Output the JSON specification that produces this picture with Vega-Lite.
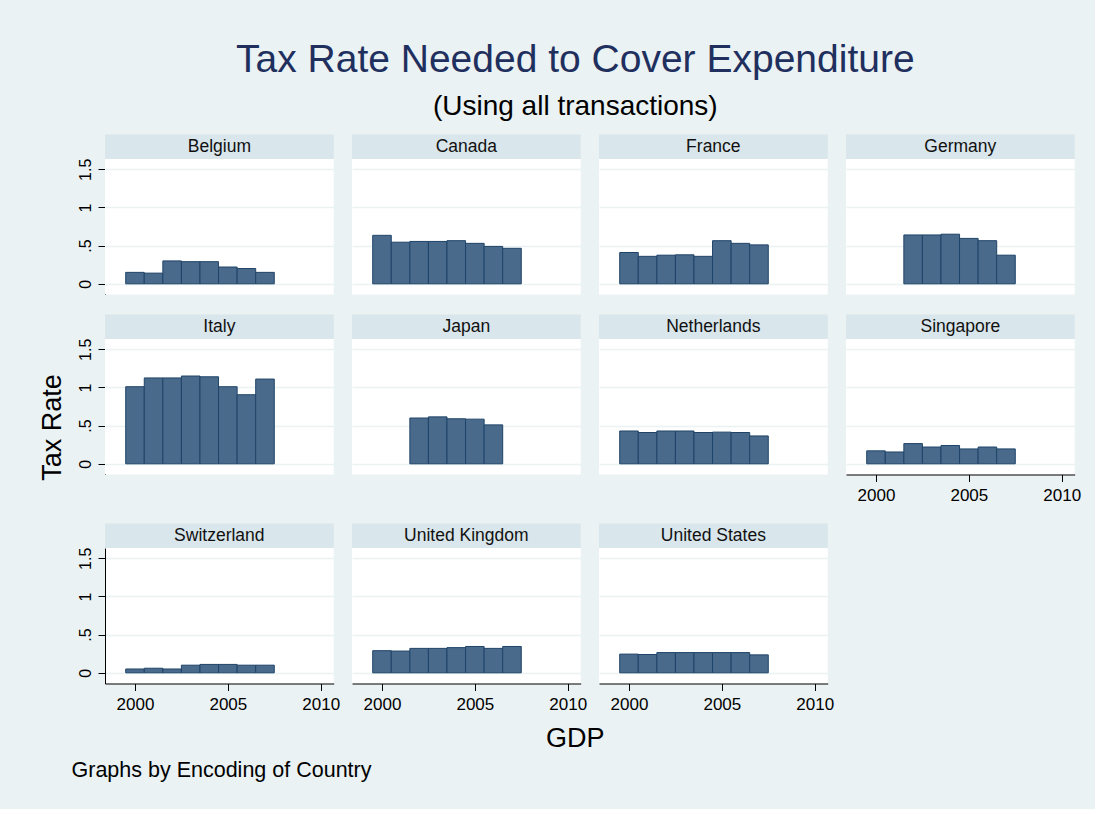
{
  "$schema": "https://vega.github.io/schema/vega-lite/v6.json",
  "background": "#EAF2F3",
  "padding": {"left": 38, "top": 41, "right": 14, "bottom": 27},
  "title": {
    "text": "Tax Rate Needed to Cover Expenditure",
    "subtitle": "(Using all transactions)",
    "font": "Liberation Sans",
    "fontSize": 39,
    "fontWeight": "normal",
    "color": "#1F2F5E",
    "subtitleFont": "Liberation Sans",
    "subtitleFontSize": 28,
    "subtitleColor": "#000000",
    "subtitlePadding": 13,
    "offset": 13,
    "anchor": "middle",
    "dx": 16
  },
  "datasets": {
    "tax": [
      {"country": "Belgium", "year": 2000, "rate": 0.15},
      {"country": "Belgium", "year": 2001, "rate": 0.14},
      {"country": "Belgium", "year": 2002, "rate": 0.30},
      {"country": "Belgium", "year": 2003, "rate": 0.29},
      {"country": "Belgium", "year": 2004, "rate": 0.29},
      {"country": "Belgium", "year": 2005, "rate": 0.22},
      {"country": "Belgium", "year": 2006, "rate": 0.20},
      {"country": "Belgium", "year": 2007, "rate": 0.15},
      {"country": "Canada", "year": 2000, "rate": 0.635},
      {"country": "Canada", "year": 2001, "rate": 0.545},
      {"country": "Canada", "year": 2002, "rate": 0.555},
      {"country": "Canada", "year": 2003, "rate": 0.555},
      {"country": "Canada", "year": 2004, "rate": 0.565},
      {"country": "Canada", "year": 2005, "rate": 0.53},
      {"country": "Canada", "year": 2006, "rate": 0.49},
      {"country": "Canada", "year": 2007, "rate": 0.465},
      {"country": "France", "year": 2000, "rate": 0.41},
      {"country": "France", "year": 2001, "rate": 0.36},
      {"country": "France", "year": 2002, "rate": 0.375},
      {"country": "France", "year": 2003, "rate": 0.38},
      {"country": "France", "year": 2004, "rate": 0.36},
      {"country": "France", "year": 2005, "rate": 0.565},
      {"country": "France", "year": 2006, "rate": 0.53},
      {"country": "France", "year": 2007, "rate": 0.51},
      {"country": "Germany", "year": 2002, "rate": 0.64},
      {"country": "Germany", "year": 2003, "rate": 0.64},
      {"country": "Germany", "year": 2004, "rate": 0.65},
      {"country": "Germany", "year": 2005, "rate": 0.595},
      {"country": "Germany", "year": 2006, "rate": 0.565},
      {"country": "Germany", "year": 2007, "rate": 0.375},
      {"country": "Italy", "year": 2000, "rate": 1.01},
      {"country": "Italy", "year": 2001, "rate": 1.125},
      {"country": "Italy", "year": 2002, "rate": 1.125},
      {"country": "Italy", "year": 2003, "rate": 1.15},
      {"country": "Italy", "year": 2004, "rate": 1.14},
      {"country": "Italy", "year": 2005, "rate": 1.01},
      {"country": "Italy", "year": 2006, "rate": 0.905},
      {"country": "Italy", "year": 2007, "rate": 1.11},
      {"country": "Japan", "year": 2002, "rate": 0.60},
      {"country": "Japan", "year": 2003, "rate": 0.615},
      {"country": "Japan", "year": 2004, "rate": 0.59},
      {"country": "Japan", "year": 2005, "rate": 0.585},
      {"country": "Japan", "year": 2006, "rate": 0.51},
      {"country": "Netherlands", "year": 2000, "rate": 0.43},
      {"country": "Netherlands", "year": 2001, "rate": 0.41},
      {"country": "Netherlands", "year": 2002, "rate": 0.43},
      {"country": "Netherlands", "year": 2003, "rate": 0.43},
      {"country": "Netherlands", "year": 2004, "rate": 0.41},
      {"country": "Netherlands", "year": 2005, "rate": 0.415},
      {"country": "Netherlands", "year": 2006, "rate": 0.41},
      {"country": "Netherlands", "year": 2007, "rate": 0.365},
      {"country": "Singapore", "year": 2000, "rate": 0.17},
      {"country": "Singapore", "year": 2001, "rate": 0.155},
      {"country": "Singapore", "year": 2002, "rate": 0.265},
      {"country": "Singapore", "year": 2003, "rate": 0.22},
      {"country": "Singapore", "year": 2004, "rate": 0.24},
      {"country": "Singapore", "year": 2005, "rate": 0.195},
      {"country": "Singapore", "year": 2006, "rate": 0.22},
      {"country": "Singapore", "year": 2007, "rate": 0.195},
      {"country": "Switzerland", "year": 2000, "rate": 0.05},
      {"country": "Switzerland", "year": 2001, "rate": 0.06},
      {"country": "Switzerland", "year": 2002, "rate": 0.05},
      {"country": "Switzerland", "year": 2003, "rate": 0.10},
      {"country": "Switzerland", "year": 2004, "rate": 0.11},
      {"country": "Switzerland", "year": 2005, "rate": 0.11},
      {"country": "Switzerland", "year": 2006, "rate": 0.10},
      {"country": "Switzerland", "year": 2007, "rate": 0.10},
      {"country": "United Kingdom", "year": 2000, "rate": 0.29},
      {"country": "United Kingdom", "year": 2001, "rate": 0.285},
      {"country": "United Kingdom", "year": 2002, "rate": 0.32},
      {"country": "United Kingdom", "year": 2003, "rate": 0.32},
      {"country": "United Kingdom", "year": 2004, "rate": 0.33},
      {"country": "United Kingdom", "year": 2005, "rate": 0.345},
      {"country": "United Kingdom", "year": 2006, "rate": 0.32},
      {"country": "United Kingdom", "year": 2007, "rate": 0.345},
      {"country": "United States", "year": 2000, "rate": 0.245},
      {"country": "United States", "year": 2001, "rate": 0.24},
      {"country": "United States", "year": 2002, "rate": 0.265},
      {"country": "United States", "year": 2003, "rate": 0.265},
      {"country": "United States", "year": 2004, "rate": 0.265},
      {"country": "United States", "year": 2005, "rate": 0.265},
      {"country": "United States", "year": 2006, "rate": 0.265},
      {"country": "United States", "year": 2007, "rate": 0.235}
    ]
  },
  "data": {"name": "tax"},
  "spacing": 19,
  "vconcat": [
    {
      "transform": [{"filter": {"field": "country", "oneOf": ["Belgium", "Canada", "France", "Germany"]}}],
      "facet": {"column": {"field": "country", "type": "nominal", "header": {"title": null, "labels": false}}},
      "spacing": {"column": 18},
      "spec": {
        "width": 228.7,
        "height": 135.5,
        "layer": [
          {
            "mark": {"type": "bar", "width": 18.571, "fill": "#4A6A8C", "stroke": "#1F4468", "strokeWidth": 1},
            "encoding": {
              "x": {"field": "year", "type": "quantitative", "scale": {"domain": [1998.385, 2010.7], "nice": false, "zero": false, "padding": 0}, "axis": null},
              "y": {
                "field": "rate", "type": "quantitative",
                "scale": {"domain": [-0.14, 1.635], "nice": false, "zero": false, "padding": 0},
                "axis": {"values": [0, 0.5, 1, 1.5], "format": "~g", "labelExpr": "datum.value == 0.5 ? '.5' : datum.label", "labelAngle": -90, "labelAlign": "center", "labelBaseline": "bottom", "labelPadding": 5, "labelFontSize": 16, "labelFlush": false, "grid": true, "title": "Tax Rate", "titleFontSize": 27, "titleAngle": -90, "titleAlign": "center", "titleBaseline": "alphabetic", "titleX": -45, "titleY": 67.75, "titleOpacity": 0}
              }
            }
          },
          {
            "transform": [{"aggregate": [{"op": "count", "as": "n"}], "groupby": ["country"]}],
            "mark": {"type": "rect", "fill": "#D9E6EB"},
            "encoding": {
              "x": {"datum": 1998.385, "type": "quantitative", "axis": null},
              "x2": {"datum": 2010.7},
              "y": {"datum": 1.635, "type": "quantitative"},
              "y2": {"datum": 1.956}
            }
          },
          {
            "transform": [{"aggregate": [{"op": "count", "as": "n"}], "groupby": ["country"]}],
            "mark": {"type": "text", "fontSize": 17.5, "color": "#111111", "align": "center", "baseline": "alphabetic"},
            "encoding": {
              "x": {"datum": 2004.5425, "type": "quantitative", "axis": null},
              "y": {"datum": 1.723, "type": "quantitative"},
              "text": {"field": "country", "type": "nominal"}
            }
          }
        ]
      }
    },
    {
      "spacing": 18,
      "hconcat": [
        {
          "transform": [{"filter": {"field": "country", "oneOf": ["Italy", "Japan", "Netherlands"]}}],
          "facet": {"column": {"field": "country", "type": "nominal", "header": {"title": null, "labels": false}}},
          "spacing": {"column": 18},
          "spec": {
            "width": 228.7,
            "height": 135.5,
            "layer": [
              {
                "mark": {"type": "bar", "width": 18.571, "fill": "#4A6A8C", "stroke": "#1F4468", "strokeWidth": 1},
                "encoding": {
                  "x": {"field": "year", "type": "quantitative", "scale": {"domain": [1998.385, 2010.7], "nice": false, "zero": false, "padding": 0}, "axis": null},
                  "y": {
                    "field": "rate", "type": "quantitative",
                    "scale": {"domain": [-0.14, 1.635], "nice": false, "zero": false, "padding": 0},
                    "axis": {"values": [0, 0.5, 1, 1.5], "format": "~g", "labelExpr": "datum.value == 0.5 ? '.5' : datum.label", "labelAngle": -90, "labelAlign": "center", "labelBaseline": "bottom", "labelPadding": 5, "labelFontSize": 16, "labelFlush": false, "grid": true, "title": "Tax Rate", "titleFontSize": 27, "titleAngle": -90, "titleAlign": "center", "titleBaseline": "alphabetic", "titleX": -45, "titleY": 88}
                  }
                }
              },
              {
                "transform": [{"aggregate": [{"op": "count", "as": "n"}], "groupby": ["country"]}],
                "mark": {"type": "rect", "fill": "#D9E6EB"},
                "encoding": {
                  "x": {"datum": 1998.385, "type": "quantitative", "axis": null},
                  "x2": {"datum": 2010.7},
                  "y": {"datum": 1.635, "type": "quantitative"},
                  "y2": {"datum": 1.956}
                }
              },
              {
                "transform": [{"aggregate": [{"op": "count", "as": "n"}], "groupby": ["country"]}],
                "mark": {"type": "text", "fontSize": 17.5, "color": "#111111", "align": "center", "baseline": "alphabetic"},
                "encoding": {
                  "x": {"datum": 2004.5425, "type": "quantitative", "axis": null},
                  "y": {"datum": 1.723, "type": "quantitative"},
                  "text": {"field": "country", "type": "nominal"}
                }
              }
            ]
          }
        },
        {
          "transform": [{"filter": "datum.country === 'Singapore'"}],
          "width": 228.7,
          "height": 135.5,
          "layer": [
            {
              "mark": {"type": "bar", "width": 18.571, "fill": "#4A6A8C", "stroke": "#1F4468", "strokeWidth": 1},
              "encoding": {
                "x": {
                  "field": "year", "type": "quantitative",
                  "scale": {"domain": [1998.385, 2010.7], "nice": false, "zero": false, "padding": 0},
                  "axis": {"values": [2000, 2005, 2010], "format": "d", "labelFontSize": 17, "labelPadding": 6, "labelFlush": false, "grid": false, "title": null}
                },
                "y": {
                  "field": "rate", "type": "quantitative",
                  "scale": {"domain": [-0.14, 1.635], "nice": false, "zero": false, "padding": 0},
                  "axis": {"values": [0, 0.5, 1, 1.5], "grid": true, "domain": false, "ticks": false, "labels": false, "title": null}
                }
              }
            },
            {
              "transform": [{"aggregate": [{"op": "count", "as": "n"}], "groupby": ["country"]}],
              "mark": {"type": "rect", "fill": "#D9E6EB"},
              "encoding": {
                "x": {"datum": 1998.385, "type": "quantitative"},
                "x2": {"datum": 2010.7},
                "y": {"datum": 1.635, "type": "quantitative"},
                "y2": {"datum": 1.956}
              }
            },
            {
              "transform": [{"aggregate": [{"op": "count", "as": "n"}], "groupby": ["country"]}],
              "mark": {"type": "text", "fontSize": 17.5, "color": "#111111", "align": "center", "baseline": "alphabetic"},
              "encoding": {
                "x": {"datum": 2004.5425, "type": "quantitative"},
                "y": {"datum": 1.723, "type": "quantitative"},
                "text": {"field": "country", "type": "nominal"}
              }
            }
          ]
        }
      ]
    },
    {
      "spacing": 18,
      "bounds": "flush",
      "hconcat": [
        {
          "transform": [{"filter": "datum.country === 'Switzerland'"}],
          "width": 228.7,
          "height": 135.5,
          "layer": [
            {
              "mark": {"type": "bar", "width": 18.571, "fill": "#4A6A8C", "stroke": "#1F4468", "strokeWidth": 1},
              "encoding": {
                "x": {
                  "field": "year", "type": "quantitative",
                  "scale": {"domain": [1998.385, 2010.7], "nice": false, "zero": false, "padding": 0},
                  "axis": {"values": [2000, 2005, 2010], "format": "d", "labelFontSize": 17, "labelPadding": 6, "labelFlush": false, "grid": false, "title": "Graphs by Encoding of Country", "titleFontSize": 21.5, "titleAlign": "left", "titleBaseline": "alphabetic", "titleX": -34, "titleY": 93.2}
                },
                "y": {
                  "field": "rate", "type": "quantitative",
                  "scale": {"domain": [-0.14, 1.635], "nice": false, "zero": false, "padding": 0},
                  "axis": {"values": [0, 0.5, 1, 1.5], "format": "~g", "labelExpr": "datum.value == 0.5 ? '.5' : datum.label", "labelAngle": -90, "labelAlign": "center", "labelBaseline": "bottom", "labelPadding": 5, "labelFontSize": 16, "labelFlush": false, "grid": true, "title": "Tax Rate", "titleFontSize": 27, "titleAngle": -90, "titleAlign": "center", "titleBaseline": "alphabetic", "titleX": -45, "titleY": 67.75, "titleOpacity": 0}
                }
              }
            },
            {
              "transform": [{"aggregate": [{"op": "count", "as": "n"}], "groupby": ["country"]}],
              "mark": {"type": "rect", "fill": "#D9E6EB"},
              "encoding": {
                "x": {"datum": 1998.385, "type": "quantitative"},
                "x2": {"datum": 2010.7},
                "y": {"datum": 1.635, "type": "quantitative"},
                "y2": {"datum": 1.956}
              }
            },
            {
              "transform": [{"aggregate": [{"op": "count", "as": "n"}], "groupby": ["country"]}],
              "mark": {"type": "text", "fontSize": 17.5, "color": "#111111", "align": "center", "baseline": "alphabetic"},
              "encoding": {
                "x": {"datum": 2004.5425, "type": "quantitative"},
                "y": {"datum": 1.723, "type": "quantitative"},
                "text": {"field": "country", "type": "nominal"}
              }
            }
          ]
        },
        {
          "transform": [{"filter": "datum.country === 'United Kingdom'"}],
          "width": 228.7,
          "height": 135.5,
          "layer": [
            {
              "mark": {"type": "bar", "width": 18.571, "fill": "#4A6A8C", "stroke": "#1F4468", "strokeWidth": 1},
              "encoding": {
                "x": {
                  "field": "year", "type": "quantitative",
                  "scale": {"domain": [1998.385, 2010.7], "nice": false, "zero": false, "padding": 0},
                  "axis": {"values": [2000, 2005, 2010], "format": "d", "labelFontSize": 17, "labelPadding": 6, "labelFlush": false, "grid": false, "title": "GDP", "titleFontSize": 27, "titleAlign": "center", "titleBaseline": "alphabetic", "titleX": 222.7, "titleY": 62.7}
                },
                "y": {
                  "field": "rate", "type": "quantitative",
                  "scale": {"domain": [-0.14, 1.635], "nice": false, "zero": false, "padding": 0},
                  "axis": {"values": [0, 0.5, 1, 1.5], "grid": true, "domain": false, "ticks": false, "labels": false, "title": null}
                }
              }
            },
            {
              "transform": [{"aggregate": [{"op": "count", "as": "n"}], "groupby": ["country"]}],
              "mark": {"type": "rect", "fill": "#D9E6EB"},
              "encoding": {
                "x": {"datum": 1998.385, "type": "quantitative"},
                "x2": {"datum": 2010.7},
                "y": {"datum": 1.635, "type": "quantitative"},
                "y2": {"datum": 1.956}
              }
            },
            {
              "transform": [{"aggregate": [{"op": "count", "as": "n"}], "groupby": ["country"]}],
              "mark": {"type": "text", "fontSize": 17.5, "color": "#111111", "align": "center", "baseline": "alphabetic"},
              "encoding": {
                "x": {"datum": 2004.5425, "type": "quantitative"},
                "y": {"datum": 1.723, "type": "quantitative"},
                "text": {"field": "country", "type": "nominal"}
              }
            }
          ]
        },
        {
          "transform": [{"filter": "datum.country === 'United States'"}],
          "width": 228.7,
          "height": 135.5,
          "layer": [
            {
              "mark": {"type": "bar", "width": 18.571, "fill": "#4A6A8C", "stroke": "#1F4468", "strokeWidth": 1},
              "encoding": {
                "x": {
                  "field": "year", "type": "quantitative",
                  "scale": {"domain": [1998.385, 2010.7], "nice": false, "zero": false, "padding": 0},
                  "axis": {"values": [2000, 2005, 2010], "format": "d", "labelFontSize": 17, "labelPadding": 6, "labelFlush": false, "grid": false, "title": null}
                },
                "y": {
                  "field": "rate", "type": "quantitative",
                  "scale": {"domain": [-0.14, 1.635], "nice": false, "zero": false, "padding": 0},
                  "axis": {"values": [0, 0.5, 1, 1.5], "grid": true, "domain": false, "ticks": false, "labels": false, "title": null}
                }
              }
            },
            {
              "transform": [{"aggregate": [{"op": "count", "as": "n"}], "groupby": ["country"]}],
              "mark": {"type": "rect", "fill": "#D9E6EB"},
              "encoding": {
                "x": {"datum": 1998.385, "type": "quantitative"},
                "x2": {"datum": 2010.7},
                "y": {"datum": 1.635, "type": "quantitative"},
                "y2": {"datum": 1.956}
              }
            },
            {
              "transform": [{"aggregate": [{"op": "count", "as": "n"}], "groupby": ["country"]}],
              "mark": {"type": "text", "fontSize": 17.5, "color": "#111111", "align": "center", "baseline": "alphabetic"},
              "encoding": {
                "x": {"datum": 2004.5425, "type": "quantitative"},
                "y": {"datum": 1.723, "type": "quantitative"},
                "text": {"field": "country", "type": "nominal"}
              }
            }
          ]
        }
      ]
    }
  ],
  "config": {
    "font": "Liberation Sans",
    "view": {"stroke": null, "fill": "#FFFFFF"},
    "axis": {
      "domainColor": "#000000",
      "domainWidth": 1,
      "tickColor": "#000000",
      "tickWidth": 1,
      "tickSize": 7,
      "labelColor": "#000000",
      "labelFont": "Liberation Sans",
      "titleColor": "#000000",
      "titleFont": "Liberation Sans",
      "titleFontWeight": "normal",
      "gridColor": "#EAF2F3",
      "gridWidth": 1.5
    }
  }
}
